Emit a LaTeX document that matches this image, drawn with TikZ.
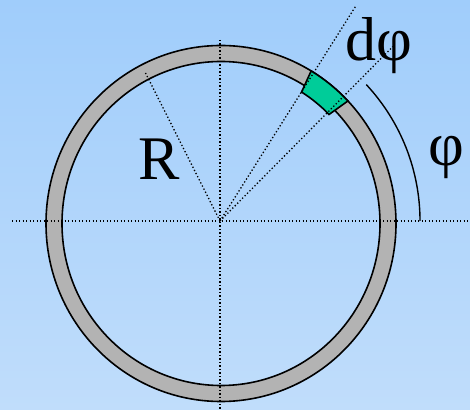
\documentclass[tikz,border=0pt]{standalone}
\usepackage{fontspec}
\setmainfont{Liberation Serif}
\usetikzlibrary{calc}
\definecolor{bgtop}{RGB}{160,205,251}
\definecolor{bgbot}{RGB}{192,221,251}
\definecolor{ringgray}{RGB}{179,179,179}
\definecolor{elemgreen}{RGB}{0,204,153}
\tikzset{
  guide/.style={line width=1.3pt, dash pattern=on 1.3pt off 2.2pt},
  ringline/.style={line width=1.6pt},
  bigtext/.style={font=\fontsize{62}{62}\selectfont, inner sep=0pt, anchor=base west}
}
\begin{document}
\begin{tikzpicture}[x=1pt,y=1pt]
\useasboundingbox (0,0) rectangle (470,409);
\shade[top color=bgtop, bottom color=bgbot] (0,0) rectangle (470,409);
% centres
\coordinate (O) at (220,188);
\coordinate (RC) at (221,185.5);
% ring
\fill[ringgray, even odd rule] (RC) ellipse [x radius=175, y radius=178] (RC) ellipse [x radius=159, y radius=162];
\draw[ringline] (RC) ellipse [x radius=175, y radius=178];
\draw[ringline] (RC) ellipse [x radius=159, y radius=162];
% element
\filldraw[fill=elemgreen, ringline] ($(RC)+(43.5:175 and 178)$) arc[start angle=43.5, end angle=59, x radius=175, y radius=178]
  -- ($(RC)+(58:152 and 155)$) arc[start angle=58, end angle=44.7, x radius=152, y radius=155] -- cycle;
% guide lines
\coordinate (hl) at (12,188);
\coordinate (hr) at (470,188);
\coordinate (vt) at (220,369);
\coordinate (vb) at (220,0);
\coordinate (rend) at (145,337);
\coordinate (d1) at (356,403.3);
\coordinate (d2) at (392.7,362.3);
\draw[guide] (hl) -- (hr);
\draw[guide] (vt) -- (vb);
\draw[guide] (O) -- (rend);
\draw[guide] (O) -- (d1);
\draw[guide] (O) -- (d2);
% phi arc
\coordinate (pa) at ($(O)+(0:200)$);
\draw[line width=1.4pt] (pa) arc[start angle=0, end angle=43, radius=200];
% labels
\node[bigtext] (lR) at (138,229) {R};
\node[bigtext] (ldphi) at (345,348) {dφ};
\node[bigtext] (lphi) at (428,243) {φ};
\end{tikzpicture}
\end{document}
